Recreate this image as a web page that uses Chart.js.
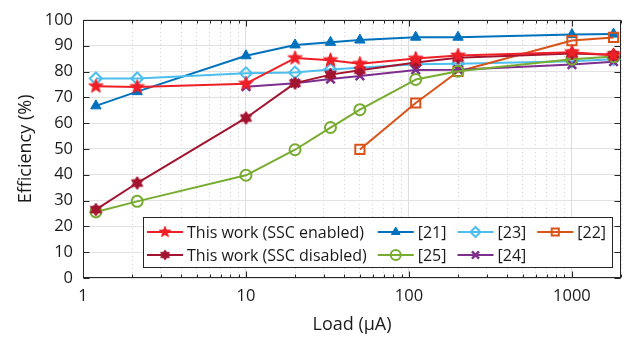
<!DOCTYPE html>
<html><head><meta charset="utf-8">
<script src="https://cdn.jsdelivr.net/npm/chart.js@4.4.1/dist/chart.umd.min.js"></script>
<style>html,body{margin:0;padding:0;background:#fff}#wrap{width:633px;height:340px}</style>
</head><body><div id="wrap"><canvas id="c" width="633" height="340"></canvas></div>
<script>
// ---- data ----
const loadsMain = [1.2, 2.15, 10, 20, 33, 50, 110, 200, 1000, 1800];
const effSscEnabled = [74.3, 74.0, 75.3, 85.2, 84.4, 83.0, 85.0, 86.2, 87.5, 86.3];
const effSscDisabled = [26.5, 36.8, 62.0, 75.5, 78.8, 80.5, 83.5, 85.3, 87.0, 86.5];
const eff21 = [66.7, 72.2, 86.1, 90.3, 91.3, 92.2, 93.3, 93.3, 94.3, 94.5];
const loads23 = [1.2, 2.15, 10, 20, 33, 110, 200, 1000, 1800];
const eff23 = [77.3, 77.3, 79.3, 79.6, 80.8, 82.8, 83.0, 84.0, 84.8];
const loads22 = [50, 110, 200, 1000, 1800];
const eff22 = [49.8, 67.8, 80.0, 92.0, 93.2];
const eff25 = [25.6, 29.7, 39.8, 49.7, 58.3, 65.2, 76.9, 80.1, 84.8, 85.8];
const loads24 = [10, 20, 33, 50, 110, 200, 1000, 1800];
const eff24 = [74.1, 75.5, 77.1, 78.3, 80.6, 80.7, 82.7, 83.8];
const seriesNames = ['This work (SSC enabled)', 'This work (SSC disabled)', '[21]', '[23]', '[22]', '[25]', '[24]'];
const xTickLabels = ['1', '10', '100', '1000'];
const yTickStep = 10;

const FONT = '"Open Sans", "Noto Sans", sans-serif';
const TXT = '#1a1a1a';
const AX = '#262626';

function pts(xs, ys) { return xs.map((x, i) => ({ x: x, y: ys[i] })); }

function starCanvas(color, R, n, innerRatio) {
  const s = Math.ceil(2 * R + 4);
  const cv = document.createElement('canvas');
  cv.width = s; cv.height = s;
  const c = cv.getContext('2d');
  c.translate(s / 2, s / 2);
  c.beginPath();
  for (let i = 0; i < 2 * n; i++) {
    const r = i % 2 === 0 ? R : R * innerRatio;
    const a = -Math.PI / 2 + i * Math.PI / n;
    const px = r * Math.cos(a), py = r * Math.sin(a);
    if (i === 0) c.moveTo(px, py); else c.lineTo(px, py);
  }
  c.closePath();
  c.fillStyle = color; c.fill();
  c.lineWidth = 1; c.strokeStyle = color; c.stroke();
  return cv;
}

const C = {
  en: '#ee1f26', dis: '#a2142f', r21: '#0072bd', r23: '#4dbeee', r22: '#d95319', r25: '#77ac30', r24: '#7e2f8e'
};
const starEn = starCanvas(C.en, 7.5, 5, 0.42);
const starDis = starCanvas(C.dis, 6.5, 6, 0.6);

function ds(label, data, color, style, radius, filled, bw, order) {
  return {
    label: label, data: data, borderColor: color, backgroundColor: color,
    borderWidth: 2, pointStyle: style, pointRadius: radius, pointHoverRadius: radius,
    pointBorderColor: color, pointBackgroundColor: filled ? color : 'rgba(0,0,0,0)',
    pointBorderWidth: bw, tension: 0, fill: false, order: order
  };
}

const datasets = [
  ds(seriesNames[0], pts(loadsMain, effSscEnabled), C.en, starEn, 7.5, true, 1, 0),
  ds(seriesNames[1], pts(loadsMain, effSscDisabled), C.dis, starDis, 6.5, true, 1, 1),
  ds(seriesNames[5], pts(loadsMain, eff25), C.r25, 'circle', 5.5, false, 2, 2),
  ds(seriesNames[6], pts(loads24, eff24), C.r24, 'crossRot', 6, false, 2.5, 3),
  ds(seriesNames[4], pts(loads22, eff22), C.r22, 'rect', 6.5, false, 2, 4),
  ds(seriesNames[3], pts(loads23, eff23), C.r23, 'rectRot', 6, false, 2, 5),
  ds(seriesNames[2], pts(loadsMain, eff21), C.r21, 'triangle', 6, true, 1, 6)
];

const isMajor = v => xTickLabels.indexOf(String(v)) >= 0;

const framePlugin = {
  id: 'frame',
  beforeDatasetsDraw(chart) {
    const { ctx, chartArea: a, scales: { x, y } } = chart;
    const L = Math.round(a.left) + 0.5, R = Math.round(a.right) - 0.5;
    const T = Math.round(a.top) + 0.5, B = Math.round(a.bottom) - 0.5;
    ctx.save();
    ctx.strokeStyle = AX; ctx.lineWidth = 1;
    ctx.beginPath();
    x.ticks.forEach(t => {
      const px = Math.round(x.getPixelForValue(t.value)) + 0.5;
      const len = isMajor(t.value) ? 6 : 3;
      ctx.moveTo(px, B); ctx.lineTo(px, B - len);
      ctx.moveTo(px, T); ctx.lineTo(px, T + len);
    });
    y.ticks.forEach(t => {
      const py = Math.round(y.getPixelForValue(t.value)) + 0.5;
      ctx.moveTo(L, py); ctx.lineTo(L + 6, py);
      ctx.moveTo(R, py); ctx.lineTo(R - 6, py);
    });
    ctx.stroke();
    ctx.strokeRect(L, T, R - L, B - T);
    ctx.restore();
  }
};

const legendPlugin = {
  id: 'boxLegend',
  afterDatasetsDraw(chart) {
    const { ctx } = chart;
    const byLabel = {};
    chart.data.datasets.forEach(d => { byLabel[d.label] = d; });
    const rows = [
      [seriesNames[0], seriesNames[2], seriesNames[3], seriesNames[4]],
      [seriesNames[1], seriesNames[5], seriesNames[6]]
    ];
    ctx.save();
    ctx.font = '16px ' + FONT;
    const lineLen = 36, gapT = 4, gapC = 11;
    const colW = [];
    for (let c = 0; c < 4; c++) {
      let m = 0;
      rows.forEach(r => { if (r[c]) m = Math.max(m, ctx.measureText(r[c]).width); });
      colW.push(lineLen + gapT + m);
    }
    const boxL = 143, boxT = 217, rowH = 23, padL = 4;
    let total = padL;
    colW.forEach((w, i) => { total += w + (i < 3 ? gapC : 0); });
    const boxW = total + 6, boxH = 50;
    ctx.fillStyle = '#fff';
    ctx.fillRect(boxL, boxT, boxW, boxH);
    ctx.strokeStyle = AX; ctx.lineWidth = 1;
    ctx.strokeRect(boxL + 0.5, boxT + 0.5, Math.round(boxW), boxH);
    rows.forEach((r, ri) => {
      let cx = boxL + padL;
      const cy = boxT + 15 + ri * rowH;
      r.forEach((name, ci) => {
        const d = byLabel[name];
        ctx.strokeStyle = d.borderColor; ctx.lineWidth = 2;
        ctx.beginPath(); ctx.moveTo(cx, cy); ctx.lineTo(cx + lineLen, cy); ctx.stroke();
        ctx.fillStyle = d.pointBackgroundColor === 'rgba(0,0,0,0)' ? '#fff' : d.borderColor;
        ctx.strokeStyle = d.borderColor; ctx.lineWidth = d.pointBorderWidth;
        const st = d.pointStyle;
        if (typeof st === 'string') {
          Chart.helpers.drawPoint(ctx, { pointStyle: st, radius: Math.min(d.pointRadius, 5), rotation: 0, borderWidth: d.pointBorderWidth }, cx + lineLen / 2, cy);
          if (d.pointBackgroundColor === 'rgba(0,0,0,0)') {
            ctx.strokeStyle = d.borderColor; ctx.lineWidth = 2;
            ctx.beginPath(); ctx.moveTo(cx + 8, cy); ctx.lineTo(cx + lineLen - 8, cy); ctx.stroke();
          }
        } else {
          const sc = 0.8;
          ctx.drawImage(st, cx + lineLen / 2 - st.width * sc / 2, cy - st.height * sc / 2, st.width * sc, st.height * sc);
        }
        ctx.fillStyle = TXT; ctx.textBaseline = 'middle'; ctx.textAlign = 'left';
        ctx.fillText(name, cx + lineLen + gapT, cy + 1);
        cx += colW[ci] + gapC;
      });
    });
    ctx.restore();
  }
};

new Chart(document.getElementById('c'), {
  type: 'line',
  data: { datasets: datasets },
  options: {
    responsive: false, animation: false,
    layout: { padding: { top: 18, right: 12, left: 0, bottom: 0 } },
    plugins: { legend: { display: false }, tooltip: { enabled: false } },
    elements: { line: { borderJoinStyle: 'round' } },
    scales: {
      x: {
        type: 'logarithmic', min: 1, max: 2000,
        afterBuildTicks: s => {
          const t = [];
          for (let e = 0; e <= 3; e++) for (let m = 1; m <= 9; m++) {
            const v = m * Math.pow(10, e);
            if (v <= 2000) t.push({ value: v });
          }
          s.ticks = t;
        },
        afterFit: s => { s.height = 62; },
        ticks: {
          autoSkip: false, maxRotation: 0, padding: 8, color: TXT,
          font: { family: FONT, size: 16.5 },
          callback: v => isMajor(v) ? String(v) : ''
        },
        grid: {
          drawTicks: false,
          color: c => (c.tick && isMajor(c.tick.value)) ? '#dedede' : '#cfcfcf',
          lineWidth: 1
        },
        border: { display: false, dash: c => (c.tick && !isMajor(c.tick.value)) ? [1, 3] : [] },
        title: { display: true, text: 'Load (µA)', color: TXT, font: { family: FONT, size: 18 }, padding: { top: 0, bottom: 4 } }
      },
      y: {
        min: 0, max: 100,
        afterFit: s => { s.width = 83; },
        ticks: { stepSize: yTickStep, padding: 10, color: TXT, font: { family: FONT, size: 16.5 } },
        grid: { drawTicks: false, color: '#e2e2e2', lineWidth: 1 },
        border: { display: false },
        title: { display: true, text: 'Efficiency (%)', color: TXT, font: { family: FONT, size: 18 }, padding: { top: 15, bottom: 0 } }
      }
    }
  },
  plugins: [framePlugin, legendPlugin]
});
</script></body></html>
